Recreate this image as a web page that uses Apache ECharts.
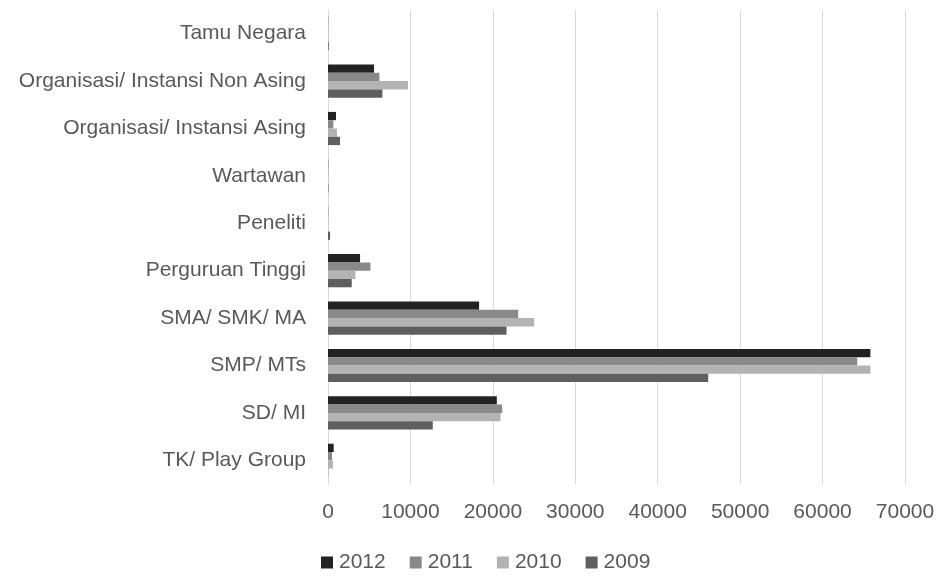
<!DOCTYPE html>
<html lang="en">
<head>
<meta charset="utf-8">
<title>Pengunjung</title>
<style>
  html, body { margin: 0; padding: 0; background: #fff; }
  #main { width: 938px; height: 578px; }
</style>
</head>
<body>
<div id="main"></div>
<script src="https://cdn.jsdelivr.net/npm/echarts@6/dist/echarts.min.js"></script>
<script>
  // categories from bottom to top
  var categories = ['TK/ Play Group', 'SD/ MI', 'SMP/ MTs', 'SMA/ SMK/ MA', 'Perguruan Tinggi',
    'Peneliti', 'Wartawan', 'Organisasi/ Instansi Asing', 'Organisasi/ Instansi Non Asing', 'Tamu Negara'];
  var data2012 = [690, 20480, 65800, 18330, 3890, 20, 30, 970, 5580, 20];
  var data2011 = [490, 21130, 64200, 23070, 5150, 30, 40, 650, 6240, 30];
  var data2010 = [600, 20930, 65800, 25010, 3330, 40, 50, 1090, 9710, 60];
  var data2009 = [20, 12710, 46130, 21660, 2880, 250, 60, 1460, 6600, 90];
  var xTicks = { min: 0, max: 70000, interval: 10000 };

  var font = 'Liberation Sans';
  var chart = echarts.init(document.getElementById('main'));

  function bar(name, data, color) {
    return {
      name: name,
      type: 'bar',
      data: data,
      barGap: '0%',
      barCategoryGap: '30%',
      itemStyle: { color: color },
      animation: false
    };
  }

  chart.setOption({
    textStyle: { fontFamily: font },
    grid: { left: 328, right: 33, top: 10, bottom: 94 },
    legend: {
      data: ['2012', '2011', '2010', '2009'],
      bottom: 0,
      left: 316,
      icon: 'rect',
      itemWidth: 12,
      itemHeight: 12,
      itemGap: 24,
      textStyle: { fontSize: 21, color: '#595959', fontFamily: font, padding: [0, 0, 0, 1] }
    },
    xAxis: {
      type: 'value',
      min: xTicks.min,
      max: xTicks.max,
      interval: xTicks.interval,
      axisLine: { show: false },
      axisTick: { show: false },
      axisLabel: {
        fontSize: 21, color: '#595959', margin: 18, fontFamily: font,
        formatter: function (v) { return String(v); }
      },
      splitLine: { lineStyle: { color: '#d9d9d9', width: 1 } }
    },
    yAxis: {
      type: 'category',
      data: categories,
      axisLine: { lineStyle: { color: '#d9d9d9' } },
      axisTick: { show: false },
      axisLabel: { fontSize: 21, color: '#595959', margin: 22, fontFamily: font }
    },
    series: [
      bar('2012', data2012, '#222222'),
      bar('2011', data2011, '#898989'),
      bar('2010', data2010, '#b3b3b3'),
      bar('2009', data2009, '#5f5f5f')
    ]
  });
</script>
</body>
</html>
